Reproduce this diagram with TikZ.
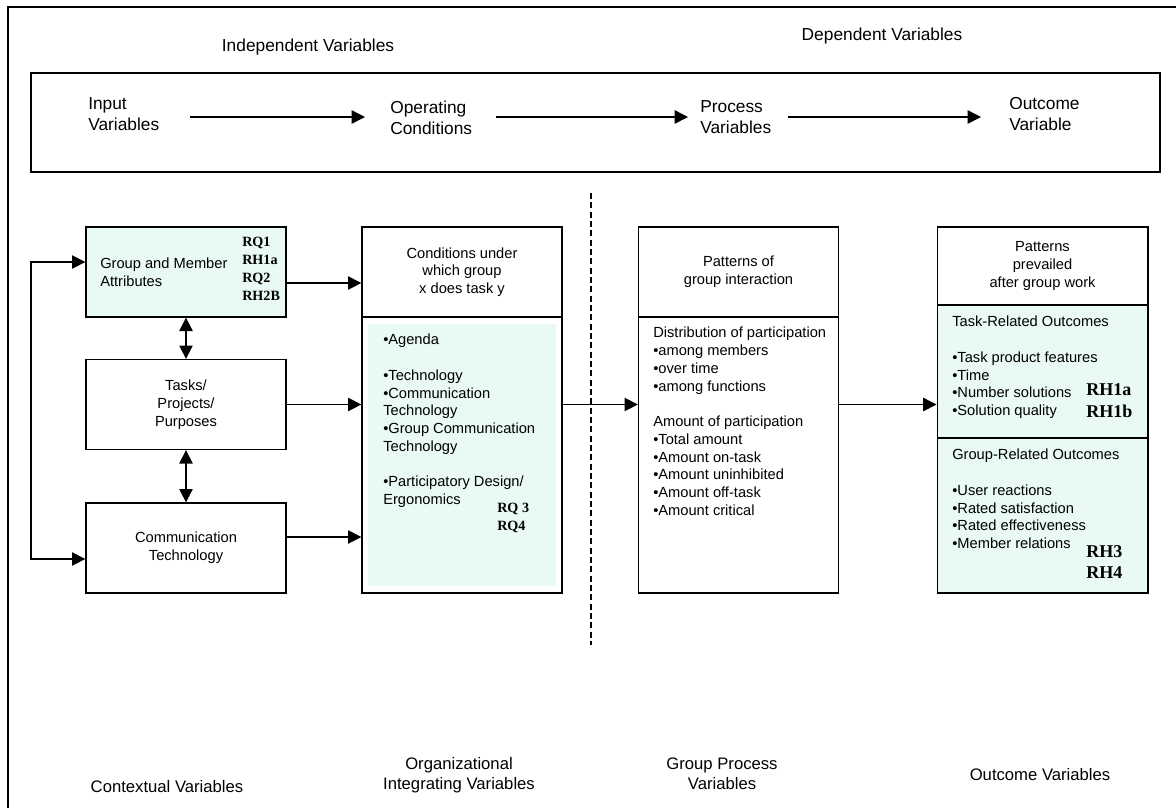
\documentclass[tikz,border=0pt]{standalone}
\usepackage{fontspec}
\setmainfont{Liberation Sans}
\newfontfamily\rqfont{Liberation Serif}
\usepackage{xcolor}
\usepackage{tikz}
\usetikzlibrary{arrows.meta}
\usetikzlibrary{positioning}
\definecolor{dotfill}{rgb}{0.91,0.98,0.95}

\begin{document}
\begin{tikzpicture}[x=0.75pt,y=-0.75pt,
  box/.style={draw,line width=1pt,minimum width=150pt,minimum height=67.5pt,inner sep=0pt,align=center},
  txt/.style={inner sep=0pt,align=left},
  big/.style={inner sep=0pt,align=left,font=\fontsize{13}{15.75}\selectfont},
  low/.style={inner sep=0pt,align=center,font=\fontsize{12.5}{15}\selectfont},
  rq/.style={inner sep=0pt,align=left,font=\rqfont\bfseries\fontsize{10.6}{13.5}\selectfont},
  rh/.style={inner sep=0pt,align=left,font=\rqfont\bfseries\fontsize{13.5}{16}\selectfont},
  arr/.style={line width=1.1pt,-{Triangle[length=10pt,width=10pt]}},
  both/.style={line width=1.1pt,{Triangle[length=10pt,width=10pt]}-{Triangle[length=10pt,width=10pt]}},
  font=\fontsize{11}{13.3}\selectfont]
  \useasboundingbox (0,0) rectangle (1176,808);
  \draw[line width=1.5pt] (1176,7) -| (8,808);

  % variable chain on top
  \node[big] (indep) at (308,47) {Independent Variables};
  \node[big] (dep) at (882,36) {Dependent Variables};
  \node[draw,line width=1pt,minimum width=846.75pt,minimum height=74.25pt] (topbox) at (595.5,122.5) {};
  \node[big,anchor=west] (inlab) at (88,114.5) {Input\\Variables};
  \node[big,anchor=west] (oplab) at (390,117.5) {Operating\\Conditions};
  \node[big,anchor=west] (prlab) at (700,117.5) {Process\\Variables};
  \node[big,anchor=west] (oulab) at (1009,114.5) {Outcome\\Variable};
  \coordinate (row) at (0,117);
  \draw[arr,shorten <=22.5pt,shorten >=18.75pt] (inlab.east |- row) -- (oplab.west |- row);
  \draw[arr,shorten <=18pt,shorten >=9pt] (oplab.east |- row) -- (prlab.west |- row);
  \draw[arr,shorten <=12pt,shorten >=21pt] (prlab.east |- row) -- (oulab.west |- row);

  % contextual variables
  \node[box,fill=dotfill] (gm) at (186,272) {};
  \node[txt,anchor=west] (gmtext) at (100,272) {Group and Member\\Attributes};
  \node[rq,anchor=west] (gmrq) at (242,269) {RQ1\\RH1a\\RQ2\\RH2B};
  \node[box] (tasks) at (186,404.5) {Tasks/\\Projects/\\Purposes};
  \node[box] (ct) at (186,548) {Communication\\Technology};
  \coordinate (loop) at (31,400);
  \draw[both] ([yshift=7.5pt]gm.west) -| (loop) |- ([yshift=-8.25pt]ct.west);
  \draw[both] (gm) -- (tasks);
  \draw[both] (tasks) -- (ct);

  % organizational integrating variables
  \node[box] (condhead) at (462,272) {Conditions under\\which group\\x does task y};
  \node[box,minimum height=207pt] (condbody) at (462,455) {};
  \fill[dotfill] ([shift={(5.25pt,-6pt)}]condbody.north west) rectangle ([shift={(-5.25pt,6pt)}]condbody.south east);
  \node[txt,anchor=north west] (condtext) at (383,334) {•Agenda\\[13.3pt]•Technology\\•Communication\\Technology\\•Group Communication\\Technology\\[13.3pt]•Participatory Design/\\Ergonomics};
  \node[rq,anchor=west] (condrq) at (497,518) {RQ 3\\RQ4};
  \coordinate (gmout) at ([yshift=-8.25pt]gm.east);
  \coordinate (ctout) at ([yshift=8.25pt]ct.east);
  \draw[arr] (gmout) -- (gmout -| condhead.west);
  \draw[arr] (tasks.east) -- (tasks.east -| condbody.west);
  \draw[arr] (ctout) -- (ctout -| condbody.west);

  \draw[line width=0.8pt,dash pattern=on 4.5pt off 2.5pt] (591,193) -- (591,645);

  % group process variables
  \node[box] (prhead) at (738.5,272) {Patterns of\\group interaction};
  \node[box,minimum height=207pt] (prbody) at (738.5,455) {};
  \node[txt,anchor=north west] (prtext) at (653,327) {Distribution of participation\\•among members\\•over time\\•among functions\\[13.3pt]Amount of participation\\•Total amount\\•Amount on-task\\•Amount uninhibited\\•Amount off-task\\•Amount critical};

  % outcome variables
  \node[box,minimum width=158pt,minimum height=58.5pt] (outhead) at (1042.5,266) {Patterns\\prevailed\\after group work};
  \node[box,fill=dotfill,minimum width=158pt,minimum height=99.75pt] (outtask) at (1042.5,371.5) {};
  \node[box,fill=dotfill,minimum width=158pt,minimum height=116.25pt] (outgroup) at (1042.5,515.5) {};
  \node[txt,anchor=north west] (tasktext) at (952,316) {Task-Related Outcomes\\[13.3pt]•Task product features\\•Time\\•Number solutions\\•Solution quality};
  \node[rh,anchor=west] (taskrh) at (1086,400.5) {RH1a\\RH1b};
  \node[txt,anchor=north west] (grouptext) at (952,449) {Group-Related Outcomes\\[13.3pt]•User reactions\\•Rated satisfaction\\•Rated effectiveness\\•Member relations};
  \node[rh,anchor=west] (grouprh) at (1086,562) {RH3\\RH4};

  \coordinate (midout) at (condbody.east |- tasks.east);
  \draw[arr] (midout) -- (midout -| prbody.west);
  \draw[arr] (midout -| prbody.east) -- (midout -| outtask.west);

  % bottom captions
  \node[low] (ctxlab) at (167,787) {Contextual Variables};
  \node[low] (orglab) at (459,775) {Organizational\\Integrating Variables};
  \node[low] (gplab) at (722,774) {Group Process\\Variables};
  \node[low] (outlab) at (1040,775) {Outcome Variables};
\end{tikzpicture}
\end{document}
